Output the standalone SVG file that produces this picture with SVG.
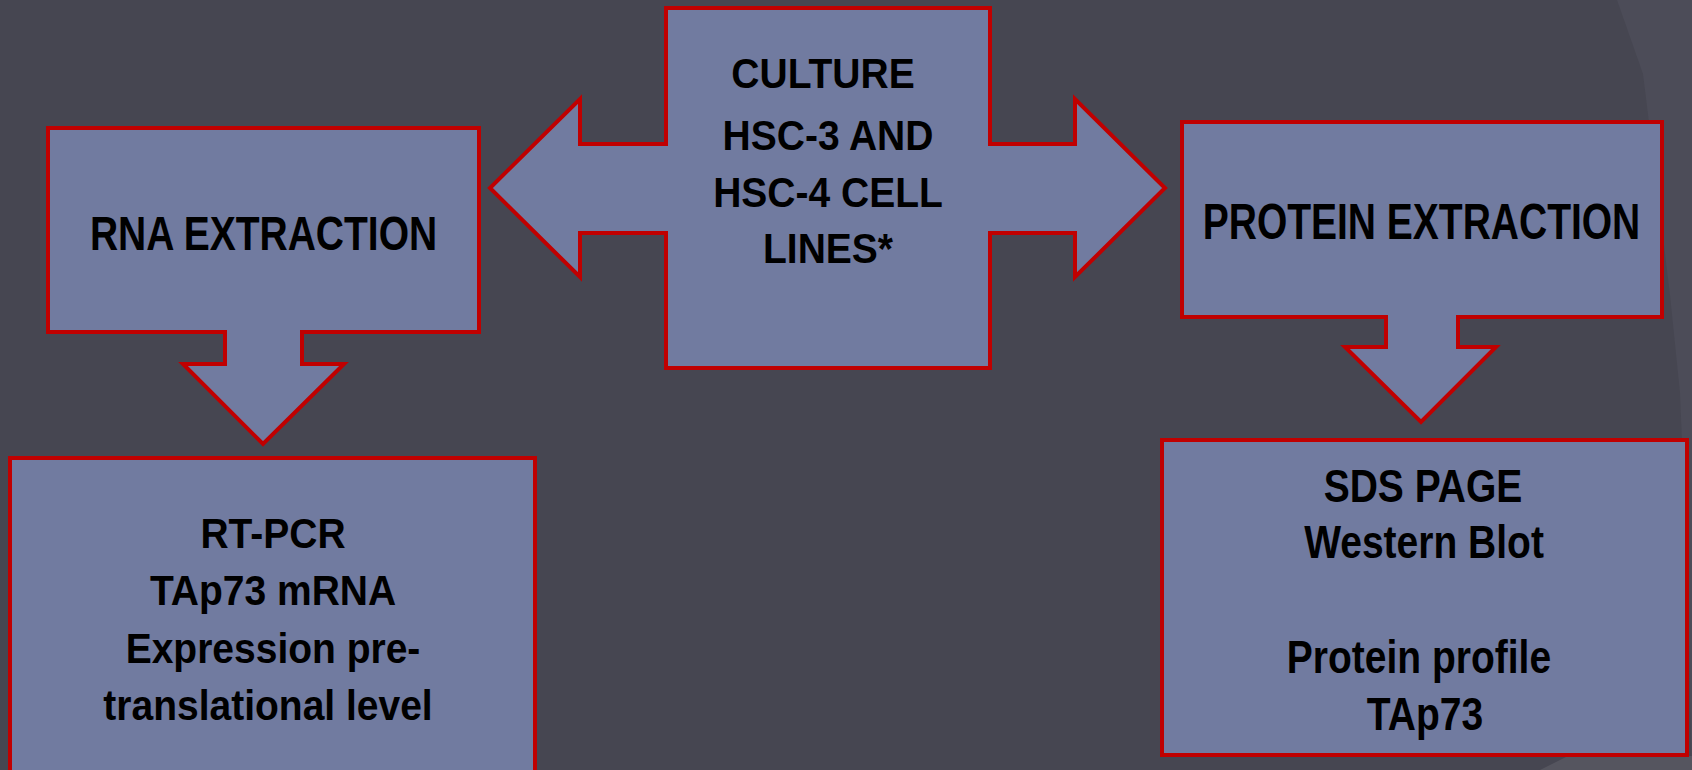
<svg xmlns="http://www.w3.org/2000/svg" width="1692" height="770" viewBox="0 0 1692 770">
  <style>
    .shape { fill: #717BA0; stroke: #C00000; stroke-width: 4; stroke-linejoin: miter; }
    .lbl { font-family: "Liberation Sans", Arial, sans-serif; font-weight: bold; font-size: 39px; fill: #000000; text-anchor: middle; }
  </style>
  <rect x="0" y="0" width="1692" height="770" fill="#464651"/>
  <path d="M1617,0 L1692,0 L1692,770 L1690,700 L1688,590 L1680,393 L1670,295 L1652,147 L1643,74 Z" fill="#4C4C58"/>
  <path d="M1540,770 L1568,756 L1692,756 L1692,770 Z" fill="#55555F"/>

  <g id="connectors"></g>

  <g id="culture">
    <path class="shape" d="M666,8 H990 V144 H1075 V99 L1165,188 L1075,277 V233 H990 V368 H666 V233 H580 V277 L490,188 L580,99 V144 H666 Z"/>
    <text class="lbl" transform="translate(823,88) scale(1,1.07)">CULTURE</text>
    <text class="lbl" transform="translate(828,150) scale(1,1.07)">HSC-3 AND</text>
    <text class="lbl" transform="translate(828,207) scale(1,1.07)">HSC-4 CELL</text>
    <text class="lbl" transform="translate(828,263) scale(1,1.07)">LINES*</text>
  </g>

  <g id="rna">
    <path class="shape" d="M48,128 H479 V332 H302 V364 H344 L263,444 L183,364 H225 V332 H48 Z"/>
    <text class="lbl" transform="translate(263.5,250) scale(1,1.25)">RNA EXTRACTION</text>
  </g>

  <g id="protein">
    <path class="shape" d="M1182,122 H1662 V317 H1458 V347 H1496 L1421,422 L1345,347 H1386 V317 H1182 Z"/>
    <text class="lbl" transform="translate(1421.5,239) scale(1,1.28)">PROTEIN EXTRACTION</text>
  </g>

  <g id="rtpcr">
    <rect class="shape" x="10" y="458" width="525" height="330"/>
    <text class="lbl" transform="translate(273,548) scale(1,1.07)">RT-PCR</text>
    <text class="lbl" transform="translate(273,605) scale(1,1.07)">TAp73 mRNA</text>
    <text class="lbl" transform="translate(273,663) scale(1,1.07)">Expression pre-</text>
    <text class="lbl" transform="translate(268,720) scale(1,1.07)">translational level</text>
  </g>

  <g id="sds">
    <rect class="shape" x="1162" y="440" width="525" height="315"/>
    <text class="lbl" transform="translate(1423,502) scale(1,1.2)">SDS PAGE</text>
    <text class="lbl" transform="translate(1424,558) scale(1,1.2)">Western Blot</text>
    <text class="lbl" transform="translate(1419,673) scale(1,1.2)">Protein profile</text>
    <text class="lbl" transform="translate(1425,730) scale(1,1.2)">TAp73</text>
  </g>
</svg>
